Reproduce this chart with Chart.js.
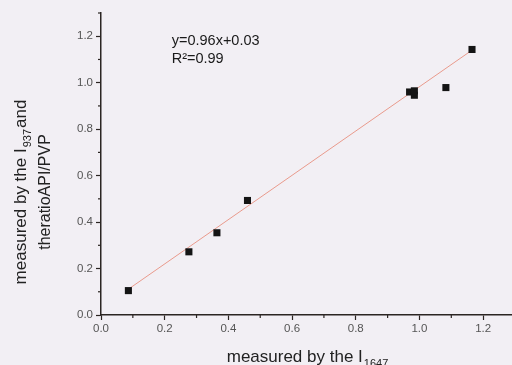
<!DOCTYPE html>
<html>
<head>
<meta charset="utf-8">
<script src="https://cdn.jsdelivr.net/npm/chart.js@4/dist/chart.umd.min.js"></script>
<style>
  html, body { margin: 0; padding: 0; background: #f2eff4; overflow: hidden; width: 512px; height: 365px; }
  #wrap { position: relative; width: 520px; height: 365px; }
</style>
</head>
<body>
<div id="wrap"><canvas id="c" width="520" height="365"></canvas></div>
<script>
// Data
const xValues = [0.086, 0.276, 0.364, 0.460, 0.969, 0.984, 0.984, 1.083, 1.165];
const yValues = [0.105, 0.272, 0.354, 0.493, 0.960, 0.965, 0.946, 0.979, 1.143];
const fitX = [0.09, 1.165];
const fitY = [0.115, 1.14];
const equationText = "y=0.96x+0.03";
const r2Text = "R\u00B2=0.99";
const xTitleMain = "measured by the I";
const xTitleSub = "1647";
const yTitleLine1 = ["measured by the I", "937", "and"];
const yTitleLine2 = "theratioAPI/PVP";

const FONT = "'Liberation Sans', Arial, sans-serif";
const AXIS_COLOR = '#2b2522';

function drawSubText(ctx, parts, x, y, size, align) {
  const mainFont = size + 'px ' + FONT;
  const subFont = Math.round(size * 0.62) + 'px ' + FONT;
  ctx.font = mainFont;
  const w0 = ctx.measureText(parts[0]).width;
  const w2 = parts[2] ? ctx.measureText(parts[2]).width : 0;
  ctx.font = subFont;
  const w1 = ctx.measureText(parts[1]).width;
  const total = w0 + w1 + w2 + 2;
  let start = align === 'center' ? x - total / 2 : x;
  ctx.textAlign = 'left';
  ctx.textBaseline = 'alphabetic';
  ctx.font = mainFont;
  ctx.fillText(parts[0], start, y);
  ctx.font = subFont;
  ctx.fillText(parts[1], start + w0 + 1, y + size * 0.3);
  if (parts[2]) {
    ctx.font = mainFont;
    ctx.fillText(parts[2], start + w0 + w1 + 2, y);
  }
}

const decorPlugin = {
  id: 'decor',
  afterDraw(chart) {
    const ctx = chart.ctx;
    const xs = chart.scales.x, ys = chart.scales.y;
    ctx.save();
    // minor ticks
    ctx.strokeStyle = AXIS_COLOR;
    ctx.lineWidth = 1.2;
    xs.ticks.forEach(t => {
      if (Math.round(t.value * 10) % 2 !== 0) {
        const px = xs.getPixelForValue(t.value);
        ctx.beginPath(); ctx.moveTo(px, xs.top); ctx.lineTo(px, xs.top + 3); ctx.stroke();
      }
    });
    ys.ticks.forEach(t => {
      if (Math.round(t.value * 10) % 2 !== 0) {
        const py = ys.getPixelForValue(t.value);
        ctx.beginPath(); ctx.moveTo(ys.right, py); ctx.lineTo(ys.right - 3, py); ctx.stroke();
      }
    });
    // annotation
    ctx.fillStyle = '#1a1a1a';
    ctx.font = '14.5px ' + FONT;
    ctx.textAlign = 'left';
    ctx.textBaseline = 'alphabetic';
    const ax = xs.getPixelForValue(0.222);
    const ay = ys.getPixelForValue(1.161);
    ctx.fillText(equationText, ax, ay);
    ctx.fillText(r2Text, ax, ay + 18);
    // x title
    ctx.fillStyle = '#222';
    const cx = (chart.chartArea.left + chart.chartArea.right) / 2;
    drawSubText(ctx, [xTitleMain, xTitleSub, ''], cx, 362, 17, 'center');
    // y title
    const cy = 192;
    ctx.save();
    ctx.translate(26, cy);
    ctx.rotate(-Math.PI / 2);
    drawSubText(ctx, yTitleLine1, 0, 0, 17, 'center');
    ctx.restore();
    ctx.save();
    ctx.translate(50, cy);
    ctx.rotate(-Math.PI / 2);
    ctx.font = '16px ' + FONT;
    ctx.textAlign = 'center';
    ctx.textBaseline = 'alphabetic';
    ctx.fillText(yTitleLine2, 0, 0);
    ctx.restore();
    ctx.restore();
  }
};

const points = xValues.map((x, i) => ({ x: x, y: yValues[i] }));
const fitPoints = fitX.map((x, i) => ({ x: x, y: fitY[i] }));

const isMajor = v => Math.round(v * 10) % 2 === 0;

new Chart(document.getElementById('c'), {
  type: 'scatter',
  data: {
    datasets: [
      {
        type: 'line',
        data: fitPoints,
        borderColor: '#e99a8c',
        borderWidth: 1,
        pointRadius: 0,
        fill: false,
        order: 2
      },
      {
        data: points,
        pointStyle: 'rect',
        pointRadius: 5,
        pointBackgroundColor: '#141414',
        pointBorderColor: '#141414',
        pointBorderWidth: 0,
        order: 1
      }
    ]
  },
  options: {
    responsive: false,
    animation: false,
    layout: { padding: { top: 13, right: 5, left: 0, bottom: 0 } },
    plugins: { legend: { display: false }, tooltip: { enabled: false } },
    scales: {
      x: {
        type: 'linear',
        min: 0, max: 1.3,
        afterFit(scale) { scale.height = 50; },
        border: { display: true, color: AXIS_COLOR, width: 1.5 },
        grid: {
          drawOnChartArea: false, drawTicks: true, tickLength: 5,
          tickColor: ctx => isMajor(ctx.tick.value) ? AXIS_COLOR : 'rgba(0,0,0,0)',
          tickWidth: 1.2
        },
        ticks: {
          stepSize: 0.1,
          autoSkip: false,
          maxRotation: 0,
          padding: 2,
          color: '#555',
          font: { family: FONT, size: 11.5 },
          callback: v => (isMajor(v) && v < 1.25) ? v.toFixed(1) : ''
        },
        title: { display: false }
      },
      y: {
        type: 'linear',
        min: 0, max: 1.3,
        afterFit(scale) { scale.width = 101; },
        border: { display: true, color: AXIS_COLOR, width: 1.5 },
        grid: {
          drawOnChartArea: false, drawTicks: true, tickLength: 5,
          tickColor: ctx => isMajor(ctx.tick.value) ? AXIS_COLOR : 'rgba(0,0,0,0)',
          tickWidth: 1.2
        },
        ticks: {
          stepSize: 0.1,
          autoSkip: false,
          padding: 3,
          color: '#555',
          font: { family: FONT, size: 11.5 },
          callback: v => (isMajor(v) && v < 1.25) ? v.toFixed(1) : ''
        },
        title: { display: false }
      }
    }
  },
  plugins: [decorPlugin]
});
</script>
</body>
</html>
